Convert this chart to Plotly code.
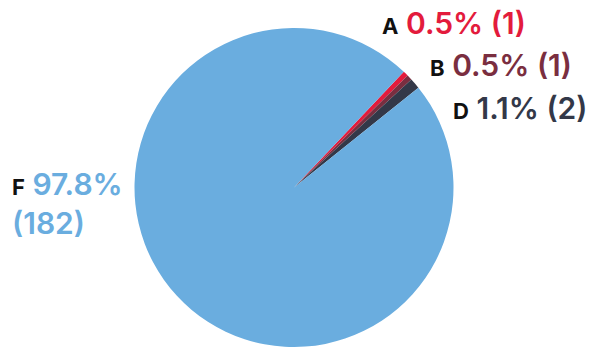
import plotly.graph_objects as go

# Response counts by category
categories = ["A", "B", "D", "F"]
counts = [1, 1, 2, 182]
colors = ["#E31B3C", "#7A2E40", "#333848", "#6AADDF"]

W, H = 606, 347
total = sum(counts)
pcts = [100.0 * c / total for c in counts]

fig = go.Figure(
    go.Pie(
        labels=categories,
        values=counts,
        sort=False,
        direction="clockwise",
        rotation=43.5,
        marker=dict(colors=colors, line=dict(width=0)),
        textinfo="none",
        hoverinfo="label+value+percent",
        showlegend=False,
        domain=dict(x=[134 / W, 454 / W], y=[0, 1 - 28 / H]),
    )
)

FONT = "Inter, sans-serif"

# label anchor points (left edge x, vertical centre y) in pixels
label_pos = {
    "A": (380, 23),
    "B": (428, 65),
    "D": (451, 108),
    "F": (10, 203),
}

for cat, cnt, pct, col in zip(categories, counts, pcts, colors):
    x, y = label_pos[cat]
    value_txt = f"{pct:.1f}% ({cnt})"
    if cat == "F":
        value_txt = f"{pct:.1f}%<br>({cnt})"
    text = (
        f"<span style='font-size:22px;color:#111'><b>{cat}</b></span> "
        f"<span style='color:{col}'>{value_txt}</span>"
    )
    fig.add_annotation(
        x=x / W,
        y=1 - y / H,
        xref="paper",
        yref="paper",
        xanchor="left",
        yanchor="middle",
        align="left",
        showarrow=False,
        text=text,
        font=dict(family=FONT, size=30, color=col, weight=600),
    )

fig.update_layout(
    width=W,
    height=H,
    margin=dict(l=0, r=0, t=0, b=0),
    paper_bgcolor="white",
    plot_bgcolor="white",
)

fig.write_html("out.html")
